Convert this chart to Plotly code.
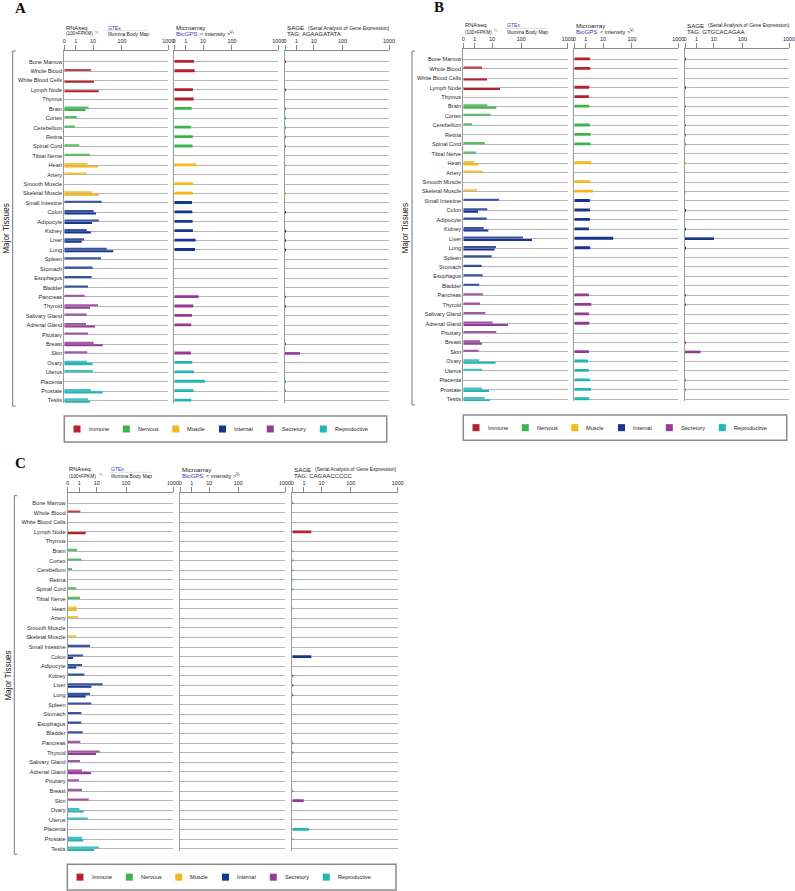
import plotly.graph_objects as go

W, H = 795, 891

tissues = ["Bone Marrow", "Whole Blood", "White Blood Cells", "Lymph Node", "Thymus",
           "Brain", "Cortex", "Cerebellum", "Retina", "Spinal Cord", "Tibial Nerve",
           "Heart", "Artery", "Smooth Muscle", "Skeletal Muscle",
           "Small Intestine", "Colon", "Adipocyte", "Kidney", "Liver", "Lung", "Spleen",
           "Stomach", "Esophagus", "Bladder",
           "Pancreas", "Thyroid", "Salivary Gland", "Adrenal Gland", "Pituitary", "Breast", "Skin",
           "Ovary", "Uterus", "Placenta", "Prostate", "Testis"]
tissue_group = [0]*5 + [1]*6 + [2]*4 + [3]*10 + [4]*7 + [5]*5
groups = ["Immune", "Nervous", "Muscle", "Internal", "Secretory", "Reproductive"]
group_colors = ["#b8212b", "#3cb44a", "#f4b81c", "#15358f", "#953a97", "#20b6b6"]

# axis scale: display units (0..100) and their tick labels
tick_pos = [0, 11, 27.6, 55.4, 100]
tick_text = ["0", "1", "10", "100", "1000"]

N = None
t = 0.7  # tiny SAGE mark
A_gtex = [N, 25.6, N, N, N, 23.4, 12.2, 10.3, N, 14.4, 24.7, 22.4, 21.5, N, 26.6, 35.9, 28.2, 33.3, 21.5, 18.9,
          40.7, 35.3, 27.2, 26.3, 22.8, 19.6, 32.4, 21.5, 20.8, 22.8, 28.2, 22.1, 21.8, 27.6, N, 25.6, 22.8]
A_ibm = [N, N, 28.5, 33.3, N, 20.5, N, N, N, N, N, 32.4, N, N, 33.3, N, 30.4, 26.6, 25.6, 16.7,
         47.1, N, N, N, N, N, 24.7, N, 29.5, N, 36.9, N, 27.2, N, N, 36.9, 24.7]
A_micro = [18.9, 19.6, N, 17.9, 18.6, 16.7, N, 16.0, 17.9, 17.6, N, 21.5, N, 17.9, 17.9, 17.0, 17.3, 17.6, 17.9, 20.5,
           19.9, N, N, N, N, 23.4, 18.3, 17.0, 16.3, N, N, 16.0, 17.3, 18.9, 29.5, 18.6, 16.3]
A_sage = [t, N, N, t, N, t, t, t, t, t, N, t, N, N, t, N, t, N, t, t,
          t, N, N, N, N, t, t, N, N, N, t, 14.4, N, N, t, t, N]

B_gtex = [N, 17.9, N, N, N, 23.0, 26.2, 8.3, N, 20.8, 12.1, 10.5, 18.5, N, 13.1, 34.2, 23.0, 22.4, 19.5, 57.2,
          31.3, 27.2, 17.6, 18.5, 15.3, 18.8, 16.0, 21.1, 28.1, 31.6, 16.0, 14.7, 15.3, 17.9, N, 17.9, 20.4]
B_ibm = [N, N, 22.7, 35.1, N, 31.6, N, N, N, N, N, 14.7, N, N, N, N, 14.1, N, 24.0, 65.8,
         30.0, N, N, N, N, N, N, N, 42.8, N, 17.9, N, 31.0, N, N, 24.6, 25.6]
B_micro = [15.0, 15.3, N, 14.4, 14.1, 14.4, N, 15.0, 15.7, 15.7, N, 16.3, N, 15.0, 17.9, 15.0, 15.0, 15.0, 14.1, 37.4,
           15.3, N, N, N, N, 14.1, 16.3, 14.1, 14.4, N, N, 14.1, 13.1, 14.1, 15.0, 16.0, 14.4]
B_sage = [t, N, N, t, N, t, N, t, t, t, N, t, N, N, t, N, t, N, t, 27.8,
          t, N, N, N, N, t, t, N, N, N, t, 15.0, N, N, t, t, N]

C_gtex = [N, 12.0, N, N, N, 8.9, 13.0, 4.1, N, 8.2, 11.7, 8.5, 9.8, N, 8.2, 21.2, 14.6, 13.6, 15.8, 33.2,
          21.2, 22.5, 13.0, 13.0, 14.2, 12.0, 30.4, 11.7, 13.6, 10.8, 13.6, 19.9, 11.1, 19.0, N, 13.6, 29.7]
C_ibm = [N, N, N, 17.1, N, N, N, N, N, N, N, 8.5, N, N, N, N, 5.1, 8.2, N, 22.5,
         17.1, N, N, N, N, N, 26.9, N, 22.2, N, N, N, 15.2, N, N, 14.6, 25.0]
C_micro = [N]*37
C_sage = [t, N, N, 18.0, N, t, t, t, t, t, N, t, N, N, t, N, 18.0, N, t, t,
          t, N, N, N, N, t, t, N, N, N, t, 10.8, N, N, 15.8, t, N]

tags = ["AGAAGATATA", "GTGCACAGAA", "CAGAACCCCC"]


def X(x):
    return x / W


def Y(y):
    return 1 - y / H


panels = [
    dict(letter="A", lx=20, ly=8, subs=[(64.3, 168.3), (174.3, 278.3), (285, 389)],
         axis_y=51, row0=61.7, dy=9.41, bottom=403, bx=12.7, by0=51, by1=406,
         head_y1=27.7, head_y2=33.7, leg=(64.3, 386.7, 416, 442),
         data=(A_gtex, A_ibm, A_micro, A_sage), tag=tags[0]),
    dict(letter="B", lx=439, ly=7, subs=[(463.3, 567.7), (574.3, 678.3), (685, 789)],
         axis_y=49, row0=59.3, dy=9.44, bottom=401, bx=412, by0=51, by1=405,
         head_y1=25.3, head_y2=32, leg=(463.3, 786.7, 415, 440.3),
         data=(B_gtex, B_ibm, B_micro, B_sage), tag=tags[1]),
    dict(letter="C", lx=20, ly=463, subs=[(67.7, 173), (180.3, 285), (292.3, 397.7)],
         axis_y=493, row0=503, dy=9.6, bottom=851, bx=14.3, by0=495.7, by1=854.3,
         head_y1=469.3, head_y2=476.3, leg=(67.3, 396, 864.3, 890),
         data=(C_gtex, C_ibm, C_micro, C_sage), tag=tags[2]),
]

FONT = "Liberation Sans, Arial, sans-serif"
fig = go.Figure()
layout = {}
annotations = []
shapes = []


def add_bars(vals, offset, width, k, lighten=0.0):
    ys, xs, cols = [], [], []
    for i, v in enumerate(vals):
        if v is None:
            continue
        ys.append(i + offset)
        xs.append(v)
        cols.append(group_colors[tissue_group[i]])
    suffix = "" if k == 1 else str(k)
    if not xs:
        # keep the (empty) subplot and its axes visible
        fig.add_trace(go.Scatter(x=[None], y=[None], mode="markers",
                                 xaxis="x" + suffix, yaxis="y" + suffix,
                                 showlegend=False, hoverinfo="skip"))
        return
    fig.add_trace(go.Bar(x=xs, y=ys, orientation="h", width=width, base=0,
                         marker=dict(color=cols, line=dict(width=0), opacity=1 - lighten),
                         xaxis="x" + suffix, yaxis="y" + suffix,
                         showlegend=False, hoverinfo="skip"))


def ann(x, y, text, size, color="#222", family=FONT, weight=None, **kw):
    f = dict(family=family, size=size, color=color)
    if weight:
        f["weight"] = weight
    d = dict(x=X(x), y=Y(y), xref="paper", yref="paper", text=text, showarrow=False,
             xanchor="left", yanchor="middle", font=f)
    d.update(kw)
    annotations.append(d)


k = 0
for p in panels:
    top_val = (p["axis_y"] - p["row0"]) / p["dy"]
    bot_val = (p["bottom"] - p["row0"]) / p["dy"]
    gtex, ibm, micro, sage = p["data"]
    for j, (x0, x1) in enumerate(p["subs"]):
        k += 1
        suffix = "" if k == 1 else str(k)
        layout["xaxis" + suffix] = dict(
            domain=[X(x0), X(x1)], range=[0, 100], side="top", anchor="y" + suffix,
            showline=True, linecolor="#8a8a8a", linewidth=1, mirror=False,
            ticks="outside", ticklen=5, tickwidth=1, tickcolor="#8a8a8a",
            tickmode="array", tickvals=tick_pos, ticktext=tick_text,
            tickfont=dict(family=FONT, size=5.4, color="#222"),
            showgrid=False, zeroline=False, automargin=False, fixedrange=True)
        layout["yaxis" + suffix] = dict(
            domain=[Y(p["bottom"]), Y(p["axis_y"])], range=[bot_val, top_val],
            anchor="x" + suffix, showline=True, linecolor="#9a9a9a", linewidth=1,
            tickmode="array", tickvals=list(range(len(tissues))),
            ticktext=tissues, showticklabels=(j == 0), ticks="",
            tickfont=dict(family=FONT, size=5.6, color="#2a2a2a"),
            showgrid=True, gridcolor="#b5b5b5", gridwidth=1.2,
            zeroline=False, automargin=False, fixedrange=True)
        if j == 0:
            add_bars(gtex, -0.12, 0.22, k, 0.15)
            add_bars(ibm, 0.14, 0.22, k)
        elif j == 1:
            add_bars(micro, -0.04, 0.3, k)
        else:
            add_bars(sage, 0.0, 0.28, k)

    # headers
    (r0, r1), (m0, m1), (s0, s1) = p["subs"]
    hy1, hy2 = p["head_y1"], p["head_y2"]

    ann(p["lx"], p["ly"], p["letter"], 15, "#111",
        "Liberation Serif, Times New Roman, serif", weight="bold", xanchor="center")
    ann(r0 - 0.5, hy1, "RNAseq", 5.8)
    ann(r0 - 0.5, hy2, "(100×FPKM)", 4.7)
    ann(r0 + 28.8, hy2 - 1.6, "¼", 4.2)
    ann(r0 + 41.7, hy1, "GTEx", 5, "#3a3aa8")
    ann(r0 + 41.7, hy2, "Illumina Body Map", 5)
    shapes.append(dict(type="line", xref="paper", yref="paper", x0=X(r0 + 42), x1=X(r0 + 84),
                       y0=Y(hy1 + 3), y1=Y(hy1 + 3), line=dict(color="#dddddd", width=1)))
    ann(m0 - 0.5, hy1, "Microarray", 6.2)
    ann(m0 - 0.5, hy2, "BioGPS", 6.0, "#3a3aa8")
    ann(m0 + 23.5, hy2, "< intensity >", 5.6)
    ann(m0 + 53.6, hy2 - 1.6, "¼", 4.6)
    ann(s0 - 0.5, hy1, "SAGE", 6.2)
    ann(s0 + 20.5, hy1, "(Serial Analysis of Gene Expression)", 5)
    ann(s0 - 0.5, hy2, "TAG: " + p["tag"], 6.0)

    # bracket and side title
    bx = p["bx"]
    shapes.append(dict(type="path", xref="paper", yref="paper",
                       path=f"M {X(bx + 3)} {Y(p['by0'])} L {X(bx)} {Y(p['by0'])} L {X(bx)} {Y(p['by1'])} L {X(bx + 3)} {Y(p['by1'])}",
                       line=dict(color="#777", width=1)))
    ann(bx - 6.5, (p["by0"] + p["by1"]) / 2, "Major Tissues", 8.2, textangle=-90, xanchor="center")

    # legend box
    lx0, lx1, ly0, ly1 = p["leg"]
    shapes.append(dict(type="rect", xref="paper", yref="paper", x0=X(lx0), x1=X(lx1),
                       y0=Y(ly1), y1=Y(ly0), line=dict(color="#8a8a8a", width=1.5), fillcolor="white"))
    cy = (ly0 + ly1) / 2
    offs = [9.2, 58.5, 108, 154.7, 202.5, 255.5]
    for g, (name, col) in enumerate(zip(groups, group_colors)):
        sx = lx0 + offs[g]
        shapes.append(dict(type="rect", xref="paper", yref="paper", x0=X(sx), x1=X(sx + 7),
                           y0=Y(cy + 3.5), y1=Y(cy - 3.5), line=dict(width=0), fillcolor=col))
        ann(sx + 13, cy, name, 5.6)

layout.update(dict(width=W, height=H, margin=dict(l=0, r=0, t=0, b=0),
                   paper_bgcolor="white", plot_bgcolor="white", template="none",
                   barmode="overlay", showlegend=False,
                   annotations=annotations, shapes=shapes))
fig.update_layout(**layout)
fig.write_html("out.html")
